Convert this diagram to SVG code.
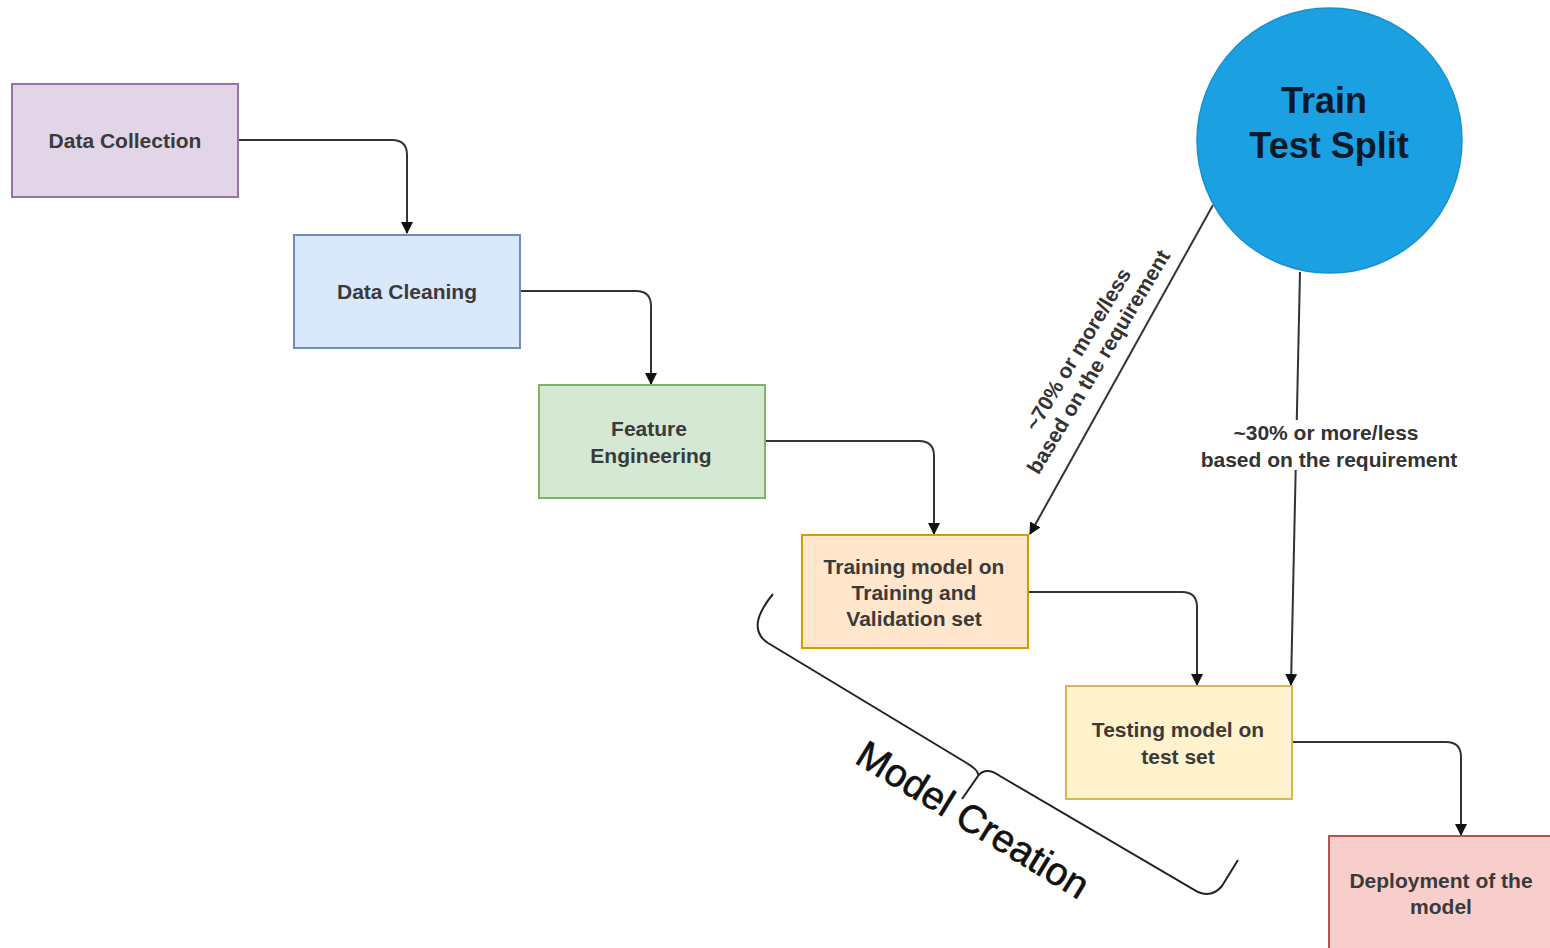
<svg xmlns="http://www.w3.org/2000/svg" width="1550" height="948" viewBox="0 0 1550 948">
<style>
.box{stroke-width:2}
.t{font-family:"Liberation Sans",Arial,sans-serif;font-size:21px;font-weight:bold;fill:#3a3a3a;text-anchor:middle}
.lbl{font-family:"Liberation Sans",Arial,sans-serif;font-size:21px;font-weight:bold;fill:#333;text-anchor:middle}
.c{fill:none;stroke:#333;stroke-width:2}
</style>
<defs>
<marker id="ah" markerWidth="12" markerHeight="12" viewBox="0 0 12 12" refX="11" refY="6" orient="auto" markerUnits="userSpaceOnUse">
<path d="M0,0 L12,6 L0,12 Z" fill="#111"/>
</marker>
</defs>
<rect width="1550" height="948" fill="#fff"/>
<g id="connectors">
<path class="c" d="M238,140 H392 Q407,140 407,155 V233" marker-end="url(#ah)"/>
<path class="c" d="M520,291 H636 Q651,291 651,306 V384" marker-end="url(#ah)"/>
<path class="c" d="M765,441 H919 Q934,441 934,456 V534" marker-end="url(#ah)"/>
<path class="c" d="M1028,592 H1182 Q1197,592 1197,607 V685" marker-end="url(#ah)"/>
<path class="c" d="M1292,742 H1446 Q1461,742 1461,757 V835" marker-end="url(#ah)"/>
<path class="c" d="M1213,205 L1030,534" marker-end="url(#ah)"/>
<path class="c" d="M1300,272 L1291,685" marker-end="url(#ah)"/>
<rect x="1186" y="420" width="286" height="50" fill="#fff"/>
<text class="lbl" x="1326" y="440">~30% or more/less</text>
<text class="lbl" x="1329" y="467">based on the requirement</text>
<g transform="translate(1079,350) rotate(-59)">
<text class="lbl" x="0" y="6">~70% or more/less</text>
<text class="lbl" x="0" y="30">based on the requirement</text>
</g>
</g>
<g id="data-collection">
<rect class="box" x="12" y="84" width="226" height="113" fill="#e1d5e7" stroke="#9673a6"/>
<text class="t" x="125" y="148">Data Collection</text>
</g>
<g id="data-cleaning">
<rect class="box" x="294" y="235" width="226" height="113" fill="#dae8fc" stroke="#6c8ebf"/>
<text class="t" x="407" y="299">Data Cleaning</text>
</g>
<g id="feature-engineering">
<rect class="box" x="539" y="385" width="226" height="113" fill="#d5e8d4" stroke="#82b366"/>
<text class="t" x="649" y="436">Feature</text>
<text class="t" x="651" y="463">Engineering</text>
</g>
<g id="training">
<rect class="box" x="802" y="535" width="226" height="113" fill="#ffe6cc" stroke="#d79b00"/>
<text class="t" x="914" y="574">Training model on</text>
<text class="t" x="914" y="600">Training and</text>
<text class="t" x="914" y="626">Validation set</text>
</g>
<g id="testing">
<rect class="box" x="1066" y="686" width="226" height="113" fill="#fff2cc" stroke="#d6b656"/>
<text class="t" x="1178" y="737">Testing model on</text>
<text class="t" x="1178" y="764">test set</text>
</g>
<g id="deployment">
<rect class="box" x="1329" y="836" width="230" height="120" fill="#f8cecc" stroke="#b85450"/>
<text class="t" x="1441" y="888">Deployment of the</text>
<text class="t" x="1441" y="914">model</text>
</g>
<g id="train-test-split">
<circle cx="1329.5" cy="140.5" r="132.5" fill="#1ba1e2" stroke="#1a8fd0" stroke-width="1.5"/>
<text x="1324" y="113" font-family="'Liberation Sans',Arial,sans-serif" font-size="36" font-weight="bold" fill="#0b1a2a" text-anchor="middle">Train</text>
<text x="1329" y="158" font-family="'Liberation Sans',Arial,sans-serif" font-size="36" font-weight="bold" fill="#0b1a2a" text-anchor="middle">Test Split</text>
</g>
<g id="model-creation">
<path d="M773,594 Q745,628 768,643 L965,762 Q980,771 978,776 L962,799 M978,776 Q986,766 1000,776 L1198,892 Q1212,898 1222,886 L1238,860" fill="none" stroke="#222" stroke-width="2"/>
<text transform="translate(966,831) rotate(31.5)" font-family="'Liberation Sans',Arial,sans-serif" font-size="39" fill="#111" stroke="#111" stroke-width="0.6" text-anchor="middle">Model Creation</text>
</g>
</svg>
